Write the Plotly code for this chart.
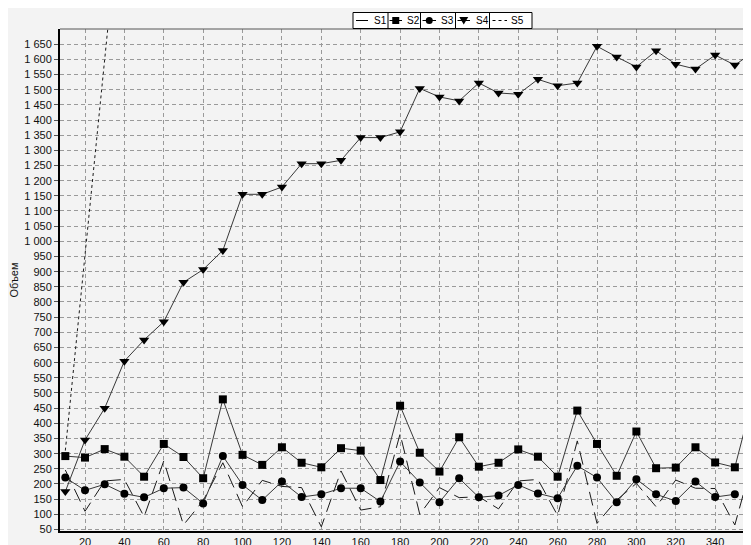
import plotly.graph_objects as go

# ---- data ----
x_vals = [10, 20, 30, 40, 50, 60, 70, 80, 90, 100, 110, 120, 130, 140, 150, 160, 170, 180,
          190, 200, 210, 220, 230, 240, 250, 260, 270, 280, 290, 300, 310, 320, 330, 340, 350, 360]

s1 = [246, 110, 210, 215, 92, 276, 65, 145, 270, 125, 212, 192, 188, 59, 243, 114, 125, 365,
      100, 188, 155, 158, 118, 210, 215, 96, 342, 70, 147, 202, 125, 213, 186, 185, 65, 300]

s2 = [292, 287, 315, 290, 224, 332, 289, 219, 479, 296, 263, 321, 270, 255, 318, 310, 213, 458,
      303, 241, 354, 257, 270, 314, 290, 224, 442, 332, 227, 373, 252, 254, 321, 271, 255, 505]

s3 = [221, 179, 199, 168, 156, 186, 188, 136, 292, 197, 147, 208, 157, 166, 186, 186, 142, 274,
      205, 140, 219, 156, 162, 197, 169, 153, 260, 221, 140, 216, 166, 144, 208, 157, 166, None]

s4 = [175, 345, 450, 605, 675, 735, 865, 907, 970, 1155, 1155, 1179, 1256, 1256, 1267, 1342, 1342, 1361,
      1504, 1476, 1463, 1522, 1489, 1485, 1534, 1513, 1522, 1643, 1608, 1575, 1628, 1584, 1568, 1614, 1581, 1627]

s5_x = [10, 20, 30, 40]
s5 = [310, 955, 1600, 2245]

x_ticks = [20, 40, 60, 80, 100, 120, 140, 160, 180, 200, 220, 240, 260, 280, 300, 320, 340, 360]
y_ticks = [50, 100, 150, 200, 250, 300, 350, 400, 450, 500, 550, 600, 650, 700, 750, 800, 850,
           900, 950, 1000, 1050, 1100, 1150, 1200, 1250, 1300, 1350, 1400, 1450, 1500, 1550, 1600, 1650]

names = ["S1", "S2", "S3", "S4", "S5"]
y_title = "Объем"

# ---- figure geometry ----
# the page body has an 8px margin, so the figure is drawn at (8, 8) in the window
OFF = 8
W, H = 751 - OFF, 545 - OFF
ML, MR, MT, MB = 60 - OFF, 0, 29 - OFF, 14
PW, PH = W - ML - MR, H - MT - MB


def px_x(p):  # window pixel -> paper x
    return (p - OFF - ML) / PW


def px_y(p):  # window pixel -> paper y
    return (H - MB - (p - OFF)) / PH


BG = "#f3f3f3"
LINE = "#383838"
FONT = "Liberation Sans, Arial, sans-serif"
S1_DASH = "14px,7px"
S5_DASH = "3px,3px"

fig = go.Figure()
fig.add_trace(go.Scatter(x=x_vals, y=s1, name=names[0], mode="lines",
                         line=dict(color="#1a1a1a", width=1, dash=S1_DASH)))
fig.add_trace(go.Scatter(x=x_vals, y=s2, name=names[1], mode="lines+markers",
                         line=dict(color=LINE, width=1),
                         marker=dict(symbol="square", size=8, color="black")))
fig.add_trace(go.Scatter(x=x_vals, y=s3, name=names[2], mode="lines+markers",
                         line=dict(color=LINE, width=1),
                         marker=dict(symbol="circle", size=8, color="black")))
fig.add_trace(go.Scatter(x=x_vals, y=s4, name=names[3], mode="lines+markers",
                         line=dict(color=LINE, width=1),
                         marker=dict(symbol="triangle-down", size=9, color="black")))
fig.add_trace(go.Scatter(x=s5_x, y=s5, name=names[4], mode="lines",
                         line=dict(color="#1a1a1a", width=1, dash=S5_DASH)))

# ---- compact boxed legend (as in the reference) ----
shapes = [dict(type="line", xref="paper", yref="paper", x0=0, x1=1, y0=1, y1=1,
               line=dict(color="#555", width=1))]
annotations = []
box_l, box_r, box_t, box_b = 353, 532, 12.5, 28.5
cy = (box_t + box_b) / 2
shapes.append(dict(type="rect", xref="paper", yref="paper",
                   x0=px_x(box_l), x1=px_x(box_r), y0=px_y(box_b), y1=px_y(box_t),
                   fillcolor="white", line=dict(color="black", width=1)))
seps = [388, 420.5, 455.5, 489.5]
for s in seps:
    shapes.append(dict(type="line", xref="paper", yref="paper",
                       x0=px_x(s), x1=px_x(s), y0=px_y(box_b), y1=px_y(box_t),
                       line=dict(color="black", width=1)))
# item layout: (line start, line end, text left)
items = [(356, 368, 372), (389.5, 402, 404.5), (422.5, 436, 439.5), (457.5, 470, 473.5), (492.5, 507, 509.5)]
dashes = ["solid", "solid", "solid", "solid", S5_DASH]
for (l0, l1, tl), nm, dsh in zip(items, names, dashes):
    shapes.append(dict(type="line", xref="paper", yref="paper",
                       x0=px_x(l0), x1=px_x(l1), y0=px_y(cy), y1=px_y(cy),
                       line=dict(color="black", width=1, dash=dsh)))
    annotations.append(dict(text=nm, xref="paper", yref="paper", x=px_x(tl), y=px_y(cy),
                            xanchor="left", yanchor="middle", showarrow=False,
                            font=dict(size=10, color="black", family=FONT)))
# legend markers
mx = [(items[1][0] + items[1][1]) / 2, (items[2][0] + items[2][1]) / 2, (items[3][0] + items[3][1]) / 2]
r = 3.5
shapes.append(dict(type="rect", xref="paper", yref="paper",
                   x0=px_x(mx[0] - r), x1=px_x(mx[0] + r), y0=px_y(cy + r), y1=px_y(cy - r),
                   fillcolor="black", line=dict(width=0)))
shapes.append(dict(type="circle", xref="paper", yref="paper",
                   x0=px_x(mx[1] - r), x1=px_x(mx[1] + r), y0=px_y(cy + r), y1=px_y(cy - r),
                   fillcolor="black", line=dict(width=0)))
tri = "M {a},{b} L {c},{b} L {d},{e} Z".format(
    a=px_x(mx[2] - 4.5), c=px_x(mx[2] + 4.5), b=px_y(cy - 3.5), d=px_x(mx[2]), e=px_y(cy + 4))
shapes.append(dict(type="path", xref="paper", yref="paper", path=tri,
                   fillcolor="black", line=dict(width=0)))

fig.update_layout(
    width=W, height=H,
    paper_bgcolor=BG, plot_bgcolor=BG,
    margin=dict(l=ML, r=MR, t=MT, b=MB, autoexpand=False),
    font=dict(family=FONT, size=11, color="#111"),
    separators=". ",
    showlegend=False,
    xaxis=dict(range=[7.3, 358.2], tickvals=x_ticks, showgrid=True, automargin=False,
               gridcolor="#9a9a9a", griddash="4px,3px", gridwidth=1,
               showline=True, linecolor="black", linewidth=2,
               ticks="", ticklabelstandoff=0, zeroline=False),
    yaxis=dict(range=[45, 1700], tickvals=y_ticks, tickformat=",d", showgrid=True, automargin=False,
               gridcolor="#9a9a9a", griddash="4px,3px", gridwidth=1,
               showline=True, linecolor="black", linewidth=2,
               ticks="outside", ticklen=4, tickcolor="#555",
               zeroline=False,
               title=dict(text=y_title, standoff=6, font=dict(size=11))),
    shapes=shapes,
    annotations=annotations,
)

fig.write_html("out.html")
